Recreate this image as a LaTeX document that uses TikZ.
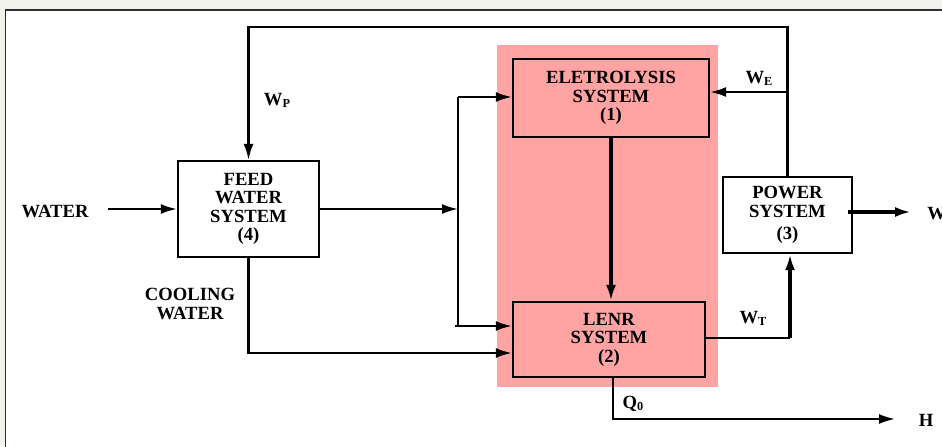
\documentclass[tikz,border=0pt]{standalone}
\usepackage{fontspec}
\setmainfont{Liberation Serif}
\usepackage{tikz}
\usetikzlibrary{arrows.meta, positioning, calc}
\definecolor{pagebg}{RGB}{242,242,237}
\definecolor{lenrbg}{RGB}{255,163,163}
\definecolor{panelline}{RGB}{45,45,45}
\newcommand{\lowsub}[1]{\raisebox{-0.25ex}{\scriptsize #1}}

\begin{document}
\begin{tikzpicture}[x=0.02cm, y=-0.02cm,
  font=\fontsize{10.6}{10.5}\selectfont\bfseries,
  blk/.style={draw, line width=1.3pt, inner sep=0pt, align=center},
  lbl/.style={inner sep=0pt, align=center},
  ln/.style={line width=1.2pt},
  p/.style={-{Latex[length=3.2mm, width=2mm]}, line width=1.2pt}]
\useasboundingbox (0,0) rectangle (942,446);
\fill[pagebg] (0,0) rectangle (942,446);
\draw[panelline, line width=0.8pt, fill=white] (5.5,10) rectangle (960,470);

% shaded core
\fill[lenrbg] (497,45) rectangle (718,387);

% blocks
\node[blk, fill=white, minimum width=2.82cm, minimum height=1.92cm] (feed) at (248.5,209)
  {FEED\\WATER\\SYSTEM\\(4)};
\node[blk, fill=lenrbg, minimum width=3.92cm, minimum height=1.56cm] (elec) at (611,98)
  {ELETROLYSIS\\SYSTEM\\(1)};
\node[blk, fill=lenrbg, minimum width=3.84cm, minimum height=1.5cm] (lenr) at (609,339.5)
  {LENR\\SYSTEM\\(2)};
\node[blk, fill=white, minimum width=2.58cm, minimum height=1.52cm] (power) at (787.5,215)
  {POWER\\SYSTEM\\[2pt](3)};

% labels
\node[lbl] (water) at (55,211) {WATER};
\node[lbl] (wp) at (277,100) {W\lowsub{P}};
\node[lbl] (cool) at (190,304) {COOLING\\WATER};
\node[lbl] (we) at (759,78) {W\lowsub{E}};
\node[lbl] (wt) at (753,318) {W\lowsub{T}};
\node[lbl] (q0) at (633,404) {Q\lowsub{0}};
\node[lbl] (h) at (926,420) {H};
\node[lbl, anchor=west] (w) at (927,214) {W};

% junction points
\coordinate (top) at (248.5,27);
\coordinate (tap) at (787.5,92);
\coordinate (win) at (108,209);
\coordinate (bus) at (458,209);
\coordinate (bt) at (458,97);
\coordinate (bb) at (458,326);
\coordinate (cw) at (248.5,353);
\coordinate (turn) at (790,338);
\coordinate (drop) at (613,419);
\coordinate (hend) at (895,419);
\coordinate (wend) at (911,212);

% connectors
\draw[p] (power.north) |- (top) -- (feed.north);
\draw[p] (tap) -- (tap -| elec.east);
\draw[p] (win) -- (feed.west);
\draw[p] (feed.east) -- (bus);
\draw[ln] (bt) -- (bb);
\draw[p] (bt) -- (bt -| elec.west);
\draw[p] (bb) ++(-3,0) -- (bb -| lenr.west);
\draw[p] (feed.south) -- (cw) -- (cw -| lenr.west);
\draw[p, line width=1.8pt] (elec.south) -- (elec.south |- lenr.north);
\draw[ln] (lenr.east |- turn) -- (turn);
\draw[p, line width=1.8pt] (turn) -- (turn |- power.south);
\draw[p] (drop |- lenr.south) -- (drop) -- (hend);
\draw[p, line width=2.5pt] (power.east) ++(-5,-3) -- (wend);
\end{tikzpicture}
\end{document}
